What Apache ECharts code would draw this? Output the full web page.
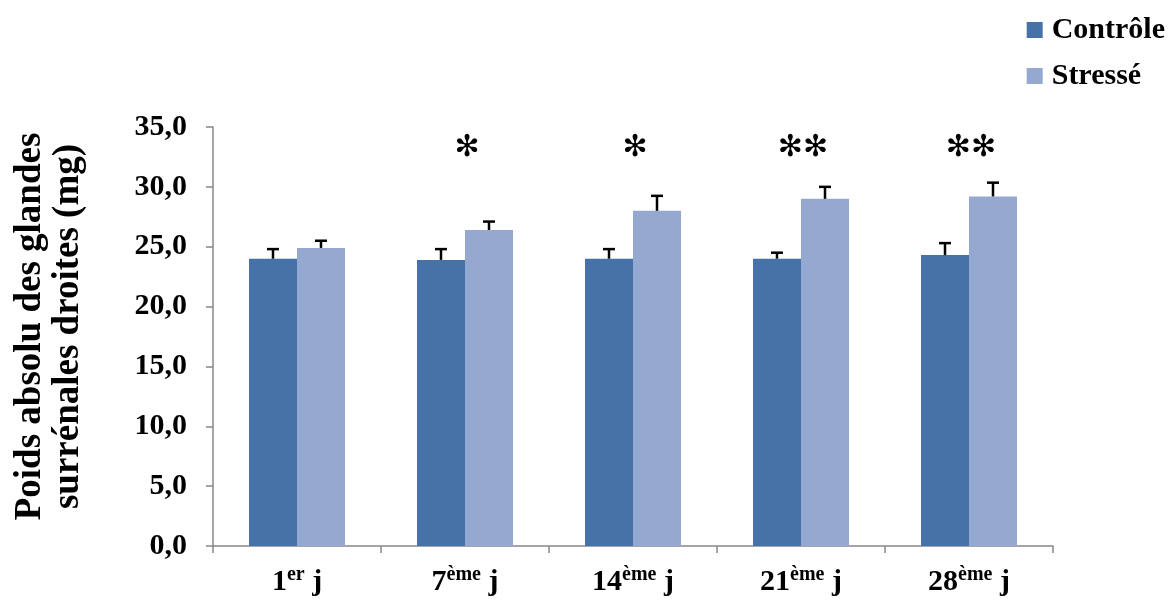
<!DOCTYPE html>
<html>
<head>
<meta charset="utf-8">
<script src="https://cdn.jsdelivr.net/npm/echarts@6/dist/echarts.min.js"></script>
<style>html,body{margin:0;padding:0;background:#fff}#c{width:1176px;height:601px}</style>
</head>
<body>
<div id="c"></div>
<script>
const categories = ['1er j', '7ème j', '14ème j', '21ème j', '28ème j'];
const controle = [24.0, 23.9, 24.0, 24.0, 24.3];
const stresse = [24.9, 26.4, 28.0, 29.0, 29.2];
const controleErr = [0.8, 0.9, 0.8, 0.5, 1.0];
const stresseErr = [0.6, 0.7, 1.25, 1.0, 1.15];
const signif = ['', '✻', '✻', '✻✻', '✻✻'];
const signifY = 33.2;

const FONT = '"Liberation Serif", "Times New Roman", serif';
const C1 = '#4672a7', C2 = '#95a9d0';
const BAR_W = 48;

const chart = echarts.init(document.getElementById('c'), null, {renderer: 'canvas'});

function errRender(offset) {
  return function (params, api) {
    const i = api.value(0), v = api.value(1), e = api.value(2);
    const base = api.coord([i, v]);
    const top = api.coord([i, v + e]);
    const x = base[0] + offset;
    return {
      type: 'group',
      children: [
        {type: 'line', shape: {x1: x, y1: base[1], x2: x, y2: top[1]}, style: {stroke: '#000', lineWidth: 2.5}},
        {type: 'line', shape: {x1: x - 6, y1: top[1], x2: x + 6, y2: top[1]}, style: {stroke: '#000', lineWidth: 2.5}}
      ]
    };
  };
}

const option = {
  backgroundColor: '#fff',
  animation: false,
  grid: {left: 213, right: 123, top: 127, bottom: 55, containLabel: false, outerBoundsMode: 'none'},
  legend: {
    orient: 'vertical', right: 6, top: 10, itemWidth: 16, itemHeight: 16, itemGap: 16,
    icon: 'rect', data: ['Contrôle', 'Stressé'],
    textStyle: {fontFamily: FONT, fontWeight: 'bold', fontSize: 30, color: '#000', padding: [0, 0, 0, 4]}
  },
  xAxis: {
    type: 'category', data: categories,
    axisLine: {lineStyle: {color: '#888', width: 1.5}},
    axisTick: {show: true, length: 7, lineStyle: {color: '#888', width: 1.5}},
    axisLabel: {
      margin: 19,
      formatter: function (val) {
        const m = val.match(/^(\d+)(\S+) j$/);
        return '{b|' + m[1] + '}{s|' + m[2] + '}{b| j}';
      },
      rich: {
        b: {fontFamily: FONT, fontWeight: 'bold', fontSize: 30, color: '#000', verticalAlign: 'bottom', lineHeight: 32},
        s: {fontFamily: FONT, fontWeight: 'bold', fontSize: 20, color: '#000', verticalAlign: 'top', lineHeight: 32, padding: [0, 0, 12, 0]}
      }
    }
  },
  yAxis: {
    type: 'value', min: 0, max: 35, interval: 5,
    name: 'Poids absolu des glandes\nsurrénales droites (mg)',
    nameLocation: 'middle', nameGap: 126, nameRotate: 90,
    nameTextStyle: {fontFamily: FONT, fontWeight: 'bold', fontSize: 37, color: '#000', lineHeight: 38, padding: [0, 0, 0, 20]},
    axisLine: {show: true, lineStyle: {color: '#888', width: 1.5}},
    axisTick: {show: true, length: 7, lineStyle: {color: '#888', width: 1.5}},
    splitLine: {show: false},
    axisLabel: {
      margin: 26, fontFamily: FONT, fontWeight: 'bold', fontSize: 30, color: '#000',
      formatter: v => v.toFixed(1).replace('.', ',')
    }
  },
  series: [
    {name: 'Contrôle', type: 'bar', data: controle, barWidth: BAR_W, barGap: '0%', itemStyle: {color: C1}},
    {name: 'Stressé', type: 'bar', data: stresse, barWidth: BAR_W, barGap: '0%', itemStyle: {color: C2}},
    {type: 'custom', renderItem: errRender(-BAR_W / 2), data: controle.map((v, i) => [i, v, controleErr[i]]), z: 5, silent: true},
    {type: 'custom', renderItem: errRender(BAR_W / 2), data: stresse.map((v, i) => [i, v, stresseErr[i]]), z: 5, silent: true},
    {type: 'custom', z: 6, silent: true,
      data: signif.map((s, i) => [i, signifY, s]),
      renderItem: function (params, api) {
        const p = api.coord([api.value(0), api.value(1)]);
        return {type: 'text', x: p[0] + 2, y: p[1], style: {text: signif[params.dataIndex], fontSize: 30, fontFamily: 'DejaVu Sans', fill: '#000', align: 'center', verticalAlign: 'middle', letterSpacing: 8}};
      }
    }
  ]
};
chart.setOption(option);
</script>
</body>
</html>
